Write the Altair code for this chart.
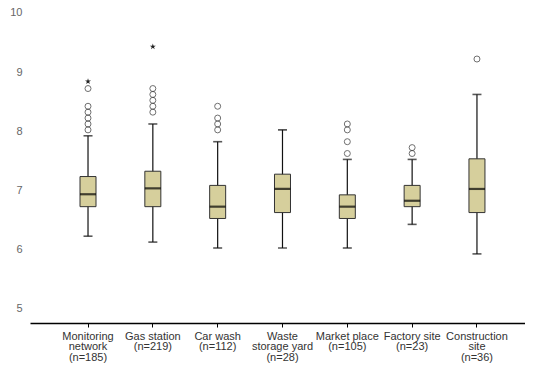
import altair as alt
import pandas as pd

categories = ["Monitoring\nnetwork\n(n=185)", "Gas station\n(n=219)", "Car wash\n(n=112)",
              "Waste\nstorage yard\n(n=28)", "Market place\n(n=105)", "Factory site\n(n=23)",
              "Construction\nsite\n(n=36)"]
keys = ["Monitoring network", "Gas station", "Car wash", "Waste storage yard",
        "Market place", "Factory site", "Construction site"]
whisker_lo = [6.22, 6.12, 6.02, 6.02, 6.02, 6.42, 5.92]
q1 = [6.72, 6.72, 6.52, 6.62, 6.52, 6.72, 6.62]
median = [6.93, 7.03, 6.72, 7.02, 6.72, 6.82, 7.02]
q3 = [7.23, 7.32, 7.08, 7.27, 6.92, 7.08, 7.53]
whisker_hi = [7.92, 8.12, 7.82, 8.02, 7.52, 7.52, 8.62]

outlier_cat = [0, 0, 0, 0, 0, 0,
               1, 1, 1, 1, 1,
               2, 2, 2, 2,
               4, 4, 4, 4,
               5, 5,
               6]
outlier_val = [8.02, 8.12, 8.22, 8.32, 8.42, 8.72,
               8.32, 8.42, 8.52, 8.62, 8.72,
               8.02, 8.12, 8.22, 8.42,
               7.62, 7.82, 8.02, 8.12,
               7.62, 7.72,
               9.22]
extreme_cat = [0, 1]
extreme_val = [8.84, 9.43]
y_ticks = [5, 6, 7, 8, 9, 10]

lab = {k: c.replace("\n", "|") for k, c in zip(keys, categories)}

stats = pd.DataFrame({"cat": keys, "lo": whisker_lo, "q1": q1, "med": median,
                      "q3": q3, "hi": whisker_hi})
outl = pd.DataFrame({"cat": [keys[i] for i in outlier_cat], "v": outlier_val})
extr = pd.DataFrame({"cat": [keys[i] for i in extreme_cat], "v": extreme_val})

label_expr = "split({" + ",".join(f"'{k}':'{v}'" for k, v in lab.items()) + "}[datum.label], '|')"

xenc = alt.X("cat:N", sort=keys, title=None,
             scale=alt.Scale(paddingInner=0, paddingOuter=0.318, align=0.621),
             axis=alt.Axis(labelAngle=0, labelExpr=label_expr, domainColor="#000",
                           domainWidth=1.5, tickColor="#000", tickSize=4, tickWidth=1,
                           labelColor="#333", labelFontSize=11, labelFont="Liberation Sans",
                           labelLineHeight=10.5, labelPadding=3, labelBaseline="top"))
yscale = alt.Scale(domain=[4.75, 10.05], nice=False, zero=False)
yaxis = alt.Axis(values=y_ticks, format="d", domain=False, ticks=False, grid=False,
                 labelColor="#666", labelFontSize=11, labelFont="Liberation Sans",
                 labelPadding=8)

base = alt.Chart(stats)
whisk = base.mark_rule(color="#111", strokeWidth=1.2).encode(
    x=xenc, y=alt.Y("lo:Q", scale=yscale, axis=yaxis, title=None), y2="hi:Q")
cap_lo = base.mark_tick(color="#111", size=9, thickness=1.6).encode(x=xenc, y=alt.Y("lo:Q", scale=yscale))
cap_hi = base.mark_tick(color="#111", size=9, thickness=1.6).encode(x=xenc, y=alt.Y("hi:Q", scale=yscale))
box = base.mark_bar(size=16, fill="#d6cf9c", stroke="#333", strokeWidth=1).encode(
    x=xenc, y=alt.Y("q1:Q", scale=yscale), y2="q3:Q")
med = base.mark_tick(color="#000", size=16, thickness=2.2).encode(x=xenc, y=alt.Y("med:Q", scale=yscale))
pts = alt.Chart(outl).mark_point(shape="circle", filled=False, size=36, stroke="#333",
                                 strokeWidth=1).encode(x=xenc, y=alt.Y("v:Q", scale=yscale))
star_path = "M0,-1L0.22,-0.3L0.95,-0.3L0.36,0.12L0.59,0.81L0,0.38L-0.59,0.81L-0.36,0.12L-0.95,-0.3L-0.22,-0.3Z"
stars = alt.Chart(extr).mark_point(shape=star_path, filled=True, size=40, color="#222",
                                   opacity=1).encode(x=xenc, y=alt.Y("v:Q", scale=yscale))

chart = alt.layer(whisk, cap_lo, cap_hi, box, med, pts, stars).properties(
    width=495, height=313,
    autosize=alt.AutoSizeParams(type="none"),
    padding={"left": 22, "top": 2, "right": 0, "bottom": 40},
    background="white",
).configure_view(stroke=None)

chart.save("out.html", embed_options={"renderer": "svg", "actions": False})
